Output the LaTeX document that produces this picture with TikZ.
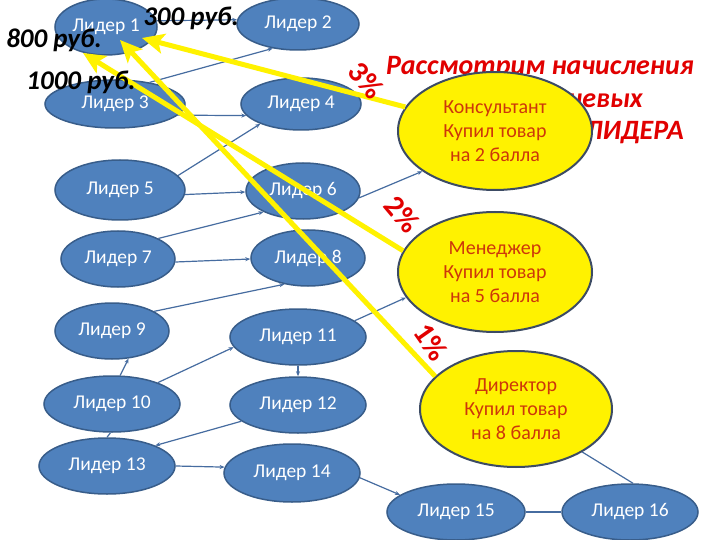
\documentclass[tikz,border=0pt]{standalone}
\usepackage{fontspec}
\setmainfont{Carlito}
\usetikzlibrary{shapes.geometric,arrows.meta}
\definecolor{lblue}{RGB}{79,129,189}
\definecolor{lborder}{RGB}{56,93,138}
\definecolor{lline}{RGB}{70,108,160}
\definecolor{ytext}{RGB}{205,55,10}
\definecolor{yborder}{RGB}{60,75,100}
\definecolor{tred}{RGB}{225,0,0}
\begin{document}
\begin{tikzpicture}[x=1pt,y=-1pt,
 leader/.style={ellipse, fill=lblue, draw=lborder, line width=1.5pt, text=white, inner sep=0pt, font=\fontsize{19.5}{21}\selectfont},
 bonus/.style={ellipse, fill=yellow, draw=yborder, line width=2pt, text=ytext, inner sep=0pt, align=center, font=\fontsize{20}{24}\selectfont},
 link/.style={draw=lline, line width=1.2pt, -{Stealth[length=5pt,width=4pt]}},
 yarrow/.style={draw=yellow, line width=5pt, -{Stealth[length=22pt,width=20pt,inset=5pt]}},
 money/.style={font=\fontsize{27}{27}\selectfont\bfseries\itshape, text=black, inner sep=0pt},
 pct/.style={font=\fontsize{30}{30}\selectfont\bfseries, text=tred, inner sep=0pt},
 titletext/.style={font=\fontsize{28}{28}\selectfont\bfseries\itshape, text=tred, inner sep=0pt}]
\useasboundingbox (0,0) rectangle (720,540);
\fill[white] (0,0) rectangle (720,540);

% leaders
\node[leader, minimum width=102, minimum height=56] (L1) at (106,27) {Лидер 1};
\node[leader, minimum width=122, minimum height=52] (L2) at (298,24) {Лидер 2};
\node[leader, minimum width=140, minimum height=48] (L3) at (115,104) {Лидер 3};
\node[leader, minimum width=120, minimum height=52] (L4) at (301,104) {Лидер 4};
\node[leader, minimum width=130, minimum height=60] (L5) at (120,190) {Лидер 5};
\node[leader, minimum width=114, minimum height=56] (L6) at (303,191) {Лидер 6};
\node[leader, minimum width=114, minimum height=56] (L7) at (118,259) {Лидер 7};
\node[leader, minimum width=114, minimum height=56] (L8) at (308,258) {Лидер 8};
\node[leader, minimum width=114, minimum height=56] (L9) at (112,331) {Лидер 9};
\node[leader, minimum width=136, minimum height=56] (L11) at (298,337) {Лидер 11};
\node[leader, minimum width=136, minimum height=56] (L10) at (112,404) {Лидер 10};
\node[leader, minimum width=136, minimum height=56] (L12) at (298,405) {Лидер 12};
\node[leader, minimum width=136, minimum height=56] (L13) at (107,466) {Лидер 13};
\node[leader, minimum width=136, minimum height=58] (L14) at (292,473) {Лидер 14};
\node[leader, minimum width=138, minimum height=56] (L15) at (456,512) {Лидер 15};
\node[leader, minimum width=136, minimum height=56] (L16) at (630,512) {Лидер 16};

% title (partly hidden)
\node[titletext] (T1) at (540,68) {Рассмотрим начисления};
\node[titletext, anchor=east] (T2) at (643,101) {ключевых};
\node[titletext, anchor=east] (T3) at (684,133) {для ЛИДЕРА};

% bonus ellipses
\node[bonus, minimum width=194, minimum height=118] (K) at (495,131) {Консультант\\Купил товар\\на 2 балла};
\node[bonus, minimum width=194, minimum height=120] (M) at (495,272) {Менеджер\\Купил товар\\на 5 балла};
\node[bonus, minimum width=192, minimum height=116] (D) at (516,409) {Директор\\Купил товар\\на 8 балла};

% connectors
\draw[link] (L1.7) -- (L2.176);
\draw[link] (L3.32) -- (L2.-136);
\draw[link] (L3.-10) -- (L4.192);
\draw[link] (L5.14) -- (L4.206);
\draw[link] (L5.-4) -- (L6.181);
\draw[link] (L7.27) -- (L6.208);
\draw[link] (L7.-3) -- (L8.181);
\draw[link] (L9.25) -- (L8.228);
\draw[link] (L6.-7) -- (K.209);
\draw[link] (L11.16) -- (M.196);
\draw[link] (L10.74) -- (L9.-59);
\draw[link] (L10.25) -- (L11.189);
\draw[link] (L11.-90) -- (L12.90);
\draw[link] (L12.196) -- (L13.23);
\draw[draw=lline, line width=1.2pt] (L10.-93) -- (L13.90);
\draw[link] (L13.0) -- (L14.175);
\draw[link] (L14.-4) -- (L15.163);
\draw[draw=lline, line width=2pt] (L15.0) -- (L16.180);
\draw[draw=lline, line width=1.2pt] (D.-33) -- (L16.84);

% yellow arrows
\coordinate (t1) at (142,38);
\coordinate (t2) at (83,53);
\coordinate (t3) at (120,40);
\draw[yarrow] (K.165) -- (t1);
\draw[yarrow] (M.167) -- (t2);
\draw[yarrow] (D.158) -- (t3);

% money labels
\node[money] (m800) at (54,40) {800 руб.};
\node[money] (m300) at (191,18) {300 руб.};
\node[money] (m1000) at (81,82) {1000 руб.};

% percents
\node[pct, rotate=-50] (p3) at (366,80) {3\%};
\node[pct, rotate=-50] (p2) at (402,214) {2\%};
\node[pct, rotate=-55] (p1) at (431,342) {1\%};
\end{tikzpicture}
\end{document}
